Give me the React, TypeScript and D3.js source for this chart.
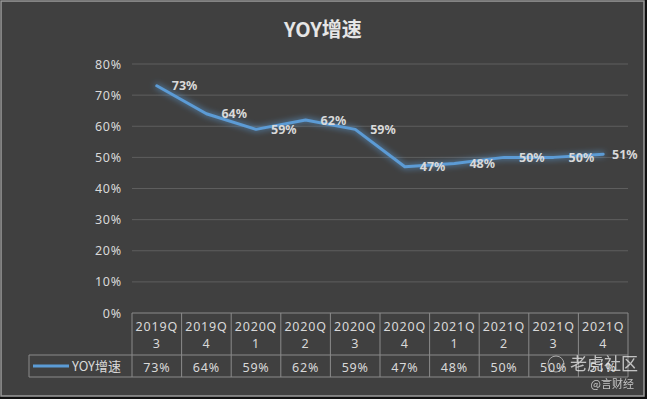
import React from "react";
import * as d3 from "d3";

const categories = ["2019Q3", "2019Q4", "2020Q1", "2020Q2", "2020Q3", "2020Q4", "2021Q1", "2021Q2", "2021Q3", "2021Q4"];
const values = [73, 64, 59, 62, 59, 47, 48, 50, 50, 51];
const yTicks = [0, 10, 20, 30, 40, 50, 60, 70, 80];
const seriesName = "YOY增速";
const title = "YOY增速";

const W = 647;
const H = 399;
const left = 132;
const right = 628;
const top = 64;
const bottom = 313;
const rowMid = 355;
const rowBottom = 377;
const legendLeft = 29;

export default function App() {
  const x = d3.scaleBand<string>().domain(categories).range([left, right]);
  const y = d3.scaleLinear().domain([0, 80]).range([bottom, top]);
  const line = d3
    .line<number>()
    .x((_, i) => (x(categories[i]) as number) + x.bandwidth() / 2)
    .y((d) => y(d));
  const textColor = "#d9d9d9";
  const font = "'Noto Sans', 'Noto Sans CJK SC', sans-serif";
  const gridColor = "#5e5e5e";
  const tableColor = "#8a8a8a";
  return (
    <div style={{ position: "fixed", left: 0, top: 0 }}>
      <svg width={W} height={H} style={{ display: "block" }}>
        <defs>
          <filter id="glow" x="-20%" y="-50%" width="140%" height="200%">
            <feGaussianBlur in="SourceGraphic" stdDeviation="3" result="b" />
            <feMerge>
              <feMergeNode in="b" />
              <feMergeNode in="SourceGraphic" />
            </feMerge>
          </filter>
        </defs>
        <rect x={0} y={0} width={W} height={H} fill="#101010" />
        <rect x={1} y={1} width={643} height={395} fill="#404040" stroke="#9a9a9a" strokeWidth={1.5} />
        <text x={323} y={37} textAnchor="middle" fill="#e6e6e6" fontSize={20} fontWeight="bold" fontFamily="'Noto Sans CJK SC', sans-serif">
          {title}
        </text>
        {yTicks.map((t) => (
          <g key={t}>
            {t > 0 && <line x1={left} x2={right} y1={y(t)} y2={y(t)} stroke={gridColor} strokeWidth={1} />}
            <text x={122} y={y(t) + 4.5} textAnchor="end" fill={textColor} fontSize={12.5} fontFamily={font} letterSpacing={0.8}>
              {t}%
            </text>
          </g>
        ))}
        {/* table */}
        <g stroke={tableColor} strokeWidth={1} fill="none">
          <line x1={left} x2={right} y1={bottom} y2={bottom} />
          <line x1={legendLeft} x2={right} y1={rowMid} y2={rowMid} />
          <line x1={legendLeft} x2={right} y1={rowBottom} y2={rowBottom} />
          <line x1={legendLeft} x2={legendLeft} y1={rowMid} y2={rowBottom} />
          {categories.map((c) => (
            <line key={c} x1={x(c) as number} x2={x(c) as number} y1={bottom} y2={rowBottom} />
          ))}
          <line x1={right} x2={right} y1={bottom} y2={rowBottom} />
        </g>
        {categories.map((c, i) => {
          const cx = (x(c) as number) + x.bandwidth() / 2;
          return (
            <g key={c} fill={textColor} fontSize={12.5} fontFamily={font} textAnchor="middle" letterSpacing={0.8}>
              <text x={cx} y={331}>{c.slice(0, 5)}</text>
              <text x={cx} y={348}>{c.slice(5)}</text>
              <text x={cx} y={372}>{values[i]}%</text>
            </g>
          );
        })}
        <line x1={33} x2={69} y1={366} y2={366} stroke="#5b9bd5" strokeWidth={3} />
        <text x={72} y={371} fill={textColor} fontSize={13} fontFamily="'Noto Sans CJK SC', sans-serif">
          {seriesName}
        </text>
        {/* series */}
        <path d={line(values) as string} fill="none" stroke="#5b9bd5" strokeWidth={3} strokeLinejoin="round" strokeLinecap="round" filter="url(#glow)" />
        {values.map((v, i) => {
          const cx = (x(categories[i]) as number) + x.bandwidth() / 2;
          return (
            <text key={i} x={Math.min(cx + 15, W - 35)} y={y(v) + 4.5} fill={textColor} fontSize={12.5} fontWeight="bold" fontFamily={font}>
              {v}%
            </text>
          );
        })}
        {/* watermark */}
        <g opacity={0.75}>
          <circle cx={556} cy={364} r={8} fill="none" stroke="#cccccc" strokeWidth={1} />
          <text x={570} y={370} fill="#eeeeee" fontSize={17} fontFamily="'Noto Sans CJK SC', sans-serif">
            老虎社区
          </text>
          <text x={634} y={388} textAnchor="end" fill="#eeeeee" fontSize={11} fontFamily="'Noto Sans CJK SC', sans-serif">
            @言财经
          </text>
        </g>
      </svg>
    </div>
  );
}
